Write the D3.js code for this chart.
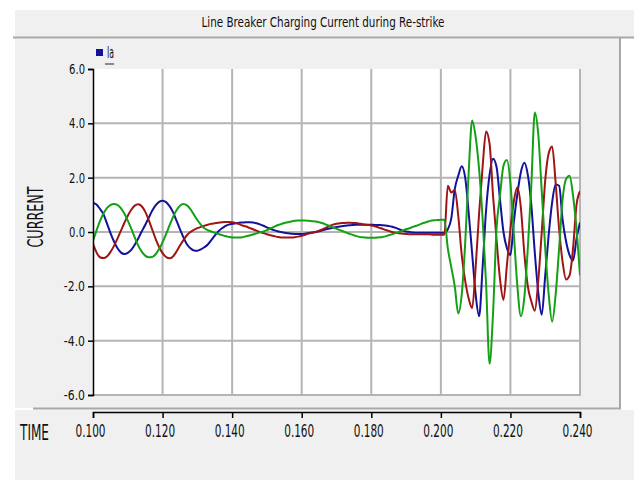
<!DOCTYPE html>
<meta charset="utf-8">
<body style="margin:0;background:#fff">
<svg width="634" height="480"></svg>
<script src="https://cdn.jsdelivr.net/npm/d3@7"></script>
<script>
// sampling of the simulation output (s)
const startTime = 0.100
const sampleStep = 0.001

// phase currents, one value per sample (0.100 .. 0.240)
const ia = [
  1.07, 1.01, 0.85, 0.66, 0.32, -0.03, -0.34, -0.59, -0.75, -0.81,
  -0.77, -0.66, -0.47, -0.24, 0.02, 0.26, 0.52, 0.78, 0.98, 1.11,
  1.15, 1.10, 0.95, 0.73, 0.42, 0.10, -0.20, -0.45, -0.60, -0.68,
  -0.69, -0.64, -0.56, -0.46, -0.30, -0.13, 0.02, 0.13, 0.22, 0.27,
  0.30, 0.32, 0.34, 0.35, 0.36, 0.36, 0.35, 0.32, 0.28, 0.23,
  0.17, 0.12, 0.07, 0.03, 0.00, -0.03, -0.05, -0.06, -0.07, -0.07,
  -0.07, -0.06, -0.04, -0.02, 0.00, 0.03, 0.06, 0.10, 0.13, 0.16,
  0.18, 0.20, 0.22, 0.24, 0.25, 0.26, 0.27, 0.27, 0.27, 0.27,
  0.27, 0.26, 0.26, 0.25, 0.24, 0.22, 0.19, 0.15, 0.10, 0.05,
  0.02, 0.00, -0.02, -0.03, -0.03, -0.03, -0.03, -0.03, -0.03, -0.03,
  -0.03, -0.03, 0.10, 0.50, 1.58, 2.07, 2.42, 2.00, 0.70, -0.80,
  -2.30, -3.10, -1.30, 0.80, 2.10, 2.70, 2.40, 1.20, 0.00, -0.60,
  -0.85, 0.40, 1.40, 2.20, 2.55, 2.10, 1.00, -0.75, -2.22, -3.05,
  -1.60, -0.10, 1.10, 1.75, 1.70, 0.45, -0.35, -0.85, -1.05, -0.25,
  0.35
]
const ib = [
  -0.44, -0.75, -0.93, -0.96, -0.90, -0.74, -0.52, -0.25, 0.04, 0.33,
  0.60, 0.82, 0.97, 1.02, 0.95, 0.75, 0.45, 0.10, -0.25, -0.55,
  -0.78, -0.92, -0.97, -0.90, -0.72, -0.50, -0.30, -0.12, 0.00, 0.08,
  0.14, 0.19, 0.23, 0.27, 0.30, 0.32, 0.34, 0.36, 0.37, 0.37,
  0.36, 0.33, 0.29, 0.24, 0.20, 0.15, 0.10, 0.05, 0.00, -0.04,
  -0.08, -0.12, -0.15, -0.18, -0.20, -0.20, -0.20, -0.20, -0.19, -0.17,
  -0.14, -0.10, -0.06, -0.03, 0.00, 0.05, 0.10, 0.16, 0.22, 0.27,
  0.30, 0.32, 0.33, 0.34, 0.34, 0.33, 0.32, 0.30, 0.28, 0.26,
  0.24, 0.21, 0.17, 0.13, 0.08, 0.04, 0.00, -0.03, -0.05, -0.06,
  -0.07, -0.08, -0.08, -0.08, -0.08, -0.08, -0.08, -0.09, -0.10, -0.10,
  -0.10, -0.10, 1.70, 1.45, 1.55, 0.60, -0.85, -1.80, -2.45, -2.80,
  -1.30, 0.70, 2.40, 3.70, 3.25, 1.34, -0.26, -1.73, -2.50, -1.20,
  0.10, 1.15, 1.65, 0.90, -0.80, -2.00, -2.55, -2.90, -1.80, 0.00,
  1.90, 2.90, 3.15, 1.80, 0.10, -1.10, -1.75, -1.60, -0.60, 1.00,
  1.50
]
const ic = [
  -0.32, 0.05, 0.40, 0.68, 0.88, 0.99, 1.03, 1.00, 0.88, 0.68,
  0.42, 0.12, -0.20, -0.50, -0.72, -0.87, -0.93, -0.92, -0.82, -0.63,
  -0.38, -0.08, 0.24, 0.55, 0.80, 0.97, 1.03, 0.98, 0.84, 0.64,
  0.44, 0.27, 0.14, 0.07, 0.02, -0.03, -0.07, -0.11, -0.15, -0.18,
  -0.20, -0.20, -0.20, -0.19, -0.16, -0.13, -0.09, -0.05, -0.01, 0.02,
  0.07, 0.13, 0.19, 0.25, 0.29, 0.33, 0.36, 0.39, 0.41, 0.42,
  0.42, 0.42, 0.41, 0.40, 0.39, 0.36, 0.32, 0.27, 0.22, 0.17,
  0.12, 0.07, 0.02, -0.03, -0.08, -0.12, -0.16, -0.19, -0.20, -0.21,
  -0.21, -0.21, -0.20, -0.19, -0.16, -0.12, -0.08, -0.04, 0.00, 0.05,
  0.10, 0.14, 0.19, 0.23, 0.28, 0.33, 0.37, 0.41, 0.43, 0.44,
  0.45, 0.45, -0.60, -1.30, -2.00, -3.00, -2.30, -0.40, 2.20, 4.10,
  3.50, 2.30, 0.50, -1.90, -4.85, -3.00, 0.10, 1.34, 2.44, 2.65,
  1.80, -0.10, -2.00, -3.10, -2.40, -0.60, 1.70, 4.40, 3.60, 1.50,
  -0.60, -2.30, -3.30, -2.30, -0.60, 1.20, 1.95, 2.07, 1.34, 0.11,
  -1.60
]

const xTicks = [0.100, 0.120, 0.140, 0.160, 0.180, 0.200, 0.220, 0.240]
const yTicks = [-6, -4, -2, 0, 2, 4, 6]

const series = [
  { name: "Ia", values: ia, color: "#12129c" },
  { name: "Ib", values: ib, color: "#a01414" },
  { name: "Ic", values: ic, color: "#14a014" }
]

const font = "'Liberation Sans Narrow', 'DejaVu Sans Condensed', 'Liberation Sans', sans-serif"
const panel = "#f0f0f0", edge = "#a8a8a8", grid = "#b4b4b4"

const svg = d3.select("svg").style("font-family", font)

// frame: title bar, chart panel, axis panel
svg.append("rect").attr("x", 15).attr("y", 10).attr("width", 619).attr("height", 27).attr("fill", panel)
svg.append("line").attr("x1", 13).attr("x2", 634).attr("y1", 37.5).attr("y2", 37.5).attr("stroke", edge).attr("stroke-width", 2)
svg.append("rect").attr("x", 15).attr("y", 39).attr("width", 605).attr("height", 369).attr("fill", panel)
svg.append("line").attr("x1", 620).attr("x2", 620).attr("y1", 38).attr("y2", 409).attr("stroke", edge).attr("stroke-width", 2)
svg.append("line").attr("x1", 33).attr("x2", 621).attr("y1", 408.5).attr("y2", 408.5).attr("stroke", edge).attr("stroke-width", 2)
svg.append("rect").attr("x", 15).attr("y", 410).attr("width", 619).attr("height", 70).attr("fill", panel)

svg.append("text")
  .attr("x", 323).attr("y", 27)
  .attr("text-anchor", "middle")
  .attr("font-size", 14)
  .attr("textLength", 243).attr("lengthAdjust", "spacingAndGlyphs")
  .attr("fill", "#111")
  .text("Line Breaker Charging Current during Re-strike")

const x = d3.scaleLinear().domain([0.100, 0.240]).range([93, 580])
const y = d3.scaleLinear().domain([-6, 6]).range([395, 69])

// plot background
svg.append("rect")
  .attr("x", x(0.100)).attr("y", y(6))
  .attr("width", x(0.240) - x(0.100) + 1).attr("height", y(-6) - y(6))
  .attr("fill", "#fff")

// grid
svg.append("g").selectAll("line")
  .data(yTicks.filter(d => d < 6))
  .join("line")
  .attr("x1", x(0.100)).attr("x2", x(0.240) + 1)
  .attr("y1", d => y(d)).attr("y2", d => y(d))
  .attr("stroke", grid).attr("stroke-width", 2)

svg.append("g").selectAll("line")
  .data(xTicks.slice(1))
  .join("line")
  .attr("x1", d => x(d)).attr("x2", d => x(d))
  .attr("y1", y(6)).attr("y2", y(-6))
  .attr("stroke", grid).attr("stroke-width", 2)

// traces
svg.append("clipPath").attr("id", "plot")
  .append("rect")
  .attr("x", x(0.100)).attr("y", y(6) - 2)
  .attr("width", x(0.240) - x(0.100)).attr("height", y(-6) - y(6) + 4)

const line = d3.line()
  .x((d, i) => x(startTime + i * sampleStep))
  .y(d => y(d))
  .curve(d3.curveMonotoneX)

svg.append("g").attr("clip-path", "url(#plot)")
  .selectAll("path")
  .data(series)
  .join("path")
  .attr("d", d => line(d.values))
  .attr("fill", "none")
  .attr("stroke", d => d.color)
  .attr("stroke-width", 2)
  .attr("stroke-linejoin", "round")

// y axis
const yAxis = svg.append("g")
  .attr("transform", "translate(" + x(0.100) + ",0)")
  .call(d3.axisLeft(y).tickValues(yTicks).tickSize(5).tickSizeOuter(5).tickPadding(3)
    .tickFormat(d => d.toFixed(1)))
yAxis.selectAll("path, line").attr("stroke", "#000").attr("stroke-width", 1.5)
yAxis.selectAll("text")
  .attr("font-family", font).attr("font-size", 14).attr("fill", "#111")
  .attr("textLength", function () { return this.textContent.length * 5.3 })
  .attr("lengthAdjust", "spacingAndGlyphs")

svg.append("text")
  .attr("transform", "translate(43,217) rotate(-90)")
  .attr("text-anchor", "middle")
  .attr("font-size", 21)
  .attr("textLength", 61).attr("lengthAdjust", "spacingAndGlyphs")
  .attr("fill", "#111")
  .text("CURRENT")

// x axis
const xAxis = svg.append("g")
  .attr("transform", "translate(0,412)")
  .call(d3.axisBottom(x).tickValues(xTicks).tickSize(6).tickSizeOuter(6).tickPadding(6)
    .tickFormat(d => d.toFixed(3)))
xAxis.selectAll("path, line").attr("stroke", "#000").attr("stroke-width", 1.5)
xAxis.selectAll("text")
  .attr("font-family", font).attr("font-size", 18).attr("fill", "#111")
  .attr("dx", -3)
  .attr("textLength", 30).attr("lengthAdjust", "spacingAndGlyphs")

svg.append("text")
  .attr("x", 20).attr("y", 440)
  .attr("font-size", 22)
  .attr("textLength", 29).attr("lengthAdjust", "spacingAndGlyphs")
  .attr("fill", "#111")
  .text("TIME")

// legend
svg.append("rect").attr("x", 96).attr("y", 49).attr("width", 7).attr("height", 7).attr("fill", series[0].color)
svg.append("text")
  .attr("x", 107).attr("y", 58)
  .attr("font-size", 15)
  .attr("textLength", 7).attr("lengthAdjust", "spacingAndGlyphs")
  .attr("fill", "#111")
  .text(series[0].name)
svg.append("line").attr("x1", 105).attr("x2", 114).attr("y1", 64).attr("y2", 64).attr("stroke", "#222").attr("stroke-width", 1)
</script>
</body>
